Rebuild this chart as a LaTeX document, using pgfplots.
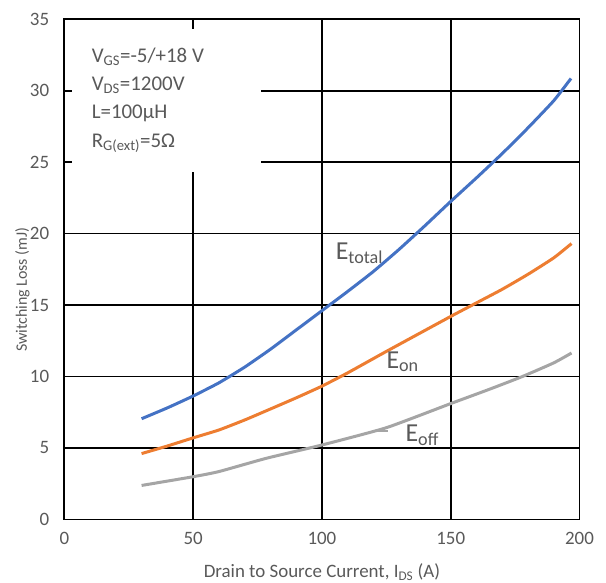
\documentclass[border=0pt]{standalone}
\usepackage{fontspec}
\setmainfont{Carlito}
\usepackage{pgfplots}
\pgfplotsset{compat=1.18}
\definecolor{tg}{HTML}{595959}
\definecolor{cblue}{HTML}{4472C4}
\definecolor{corange}{HTML}{ED7D31}
\definecolor{cgray}{HTML}{A5A5A5}
\begin{document}
\begin{tikzpicture}
\useasboundingbox (-64.3bp,-63.7bp) rectangle (541.7bp,519.3bp);
\begin{axis}[
  at={(0,0)}, anchor=south west,
  scale only axis, width=515.2bp, height=500bp,
  xmin=0, xmax=200, ymin=0, ymax=35,
  xtick={0,50,...,200}, ytick={0,5,...,35},
  grid=major, major grid style={black, line width=1.6bp},
  axis line style={black, line width=1.6bp},
  tick style={draw=none},
  /pgf/number format/assume math mode=true,
  tick label style={font=\fontsize{19}{19}\selectfont, text=tg, inner sep=0pt},
  yticklabel style={xshift=-15bp},
  xticklabel style={yshift=-13bp},
  xlabel={Drain to Source Current, I\textsubscript{DS} (A)},
  ylabel={Switching Loss (mJ)},
  xlabel style={font=\fontsize{19}{19}\selectfont, text=tg, at={(axis description cs:0.5,-0.106)}, anchor=center},
  ylabel style={font=\fontsize{16}{16}\selectfont, text=tg, at={(axis description cs:-0.0815,0.459)}, anchor=center},
  clip=false,
]
\fill[white] (axis cs:3,24.3) rectangle (axis cs:76.2,34.3);
\addplot[cblue, line width=3bp, smooth, tension=0.3] coordinates {
(30,7.04) (40,7.8) (50,8.63) (60,9.55) (70,10.65) (80,11.9) (90,13.25) (100,14.6) (110,15.95) (120,17.35) (130,18.9) (140,20.55) (150,22.25) (160,23.9) (170,25.6) (180,27.4) (190,29.3) (196.7,30.86)};
\addplot[corange, line width=3bp, smooth, tension=0.3] coordinates {
(30,4.6) (40,5.13) (50,5.7) (60,6.25) (70,6.95) (80,7.72) (90,8.5) (100,9.32) (110,10.25) (125,11.75) (150,14.2) (160,15.15) (170,16.1) (180,17.15) (190,18.3) (196.9,19.3)};
\addplot[cgray, line width=3bp, smooth, tension=0.3] coordinates {
(30,2.37) (50,2.98) (60,3.34) (78.4,4.27) (100,5.2) (125,6.41) (150,8.1) (165,9.1) (177.9,10.0) (190,10.95) (196.9,11.64)};
\draw[cgray, line width=1.5bp] (axis cs:121.5,6.19) -- (axis cs:125.5,6.19);
\begin{scope}[every node/.style={text=tg, inner sep=0pt, anchor=base west, font=\fontsize{21}{21}\selectfont}]
\node at (axis cs:10.6,32.0) {V\textsubscript{GS}=-5/+18 V};
\node at (axis cs:10.6,30.05) {V\textsubscript{DS}=1200V};
\node at (axis cs:10.6,28.05) {L=100µH};
\node at (axis cs:10.6,26.05) {R\textsubscript{G(ext)}=5Ω};
\end{scope}
\begin{scope}[every node/.style={text=tg, inner sep=0pt, anchor=base west, font=\fontsize{26}{26}\selectfont}]
\node at (axis cs:105.3,18.2) {E\textsubscript{total}};
\node at (axis cs:125.0,10.58) {E\textsubscript{on}};
\node at (axis cs:132.4,5.44) {E\textsubscript{off}};
\end{scope}
\end{axis}
\end{tikzpicture}
\end{document}
